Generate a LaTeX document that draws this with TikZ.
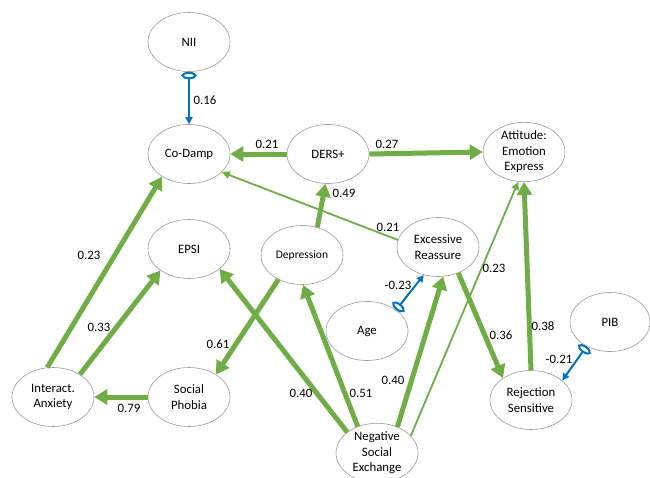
\documentclass[tikz,border=0pt]{standalone}
\usepackage{fontspec}
\setmainfont{Carlito}
\usetikzlibrary{arrows.meta,positioning,shapes.geometric}

\definecolor{pathgreen}{RGB}{112,173,71}
\definecolor{modblue}{RGB}{0,112,192}

\begin{document}
\begin{tikzpicture}[x=1pt,y=-1pt,node distance=112pt,on grid,
       font=\fontsize{12.8}{15.5}\selectfont]
       \tikzstyle{var}=[ellipse,draw=black!40,line width=0.6pt,fill=white,
              minimum width=82pt,minimum height=59pt,inner sep=0pt,align=center]
       \tikzstyle{strong}=[draw=pathgreen,line width=5pt,-{Triangle[length=13pt,width=15pt]}]
       \tikzstyle{weak}=[draw=pathgreen,line width=1.8pt,-{Triangle[length=8pt,width=7.5pt]}]
       \tikzstyle{mod}=[draw=modblue,line width=2pt,
              {Ellipse[open,length=7.5pt,width=15pt]}-{Triangle[length=7pt,width=7pt]}]
       \tikzstyle{coef}=[inner sep=0pt]

       \useasboundingbox (0,0) rectangle (650,477);

       \node[var] (nii) at (189,42) {NII};
       \node[var] (codamp) [below=of nii] {Co-Damp};
       \node[var] (ders) [right=139pt of codamp] {DERS+};
       \node[var] (attitude) at (524,152) {Attitude:\\Emotion\\Express};
       \node[var] (epsi) [below=95pt of codamp] {EPSI};
       \node[var] (phobia) [below=148pt of epsi] {Social\\Phobia};
       \node[var] (anxiety) [left=136pt of phobia] {Interact.\\Anxiety};
       \node[var,font=\fontsize{11.5}{14}\selectfont] (depression) at (302,255) {Depression};
       \node[var] (reassure) at (438,247) {Excessive\\Reassure};
       \node[var] (age) at (367,331) {Age};
       \node[var,minimum width=80pt] (pib) at (610,322) {PIB};
       \node[var] (reject) at (531,400) {Rejection\\Sensitive};
       \node[var] (nse) at (377,453) {Negative\\Social\\Exchange};

       % paths
       \draw[mod] (nii.south) -- (codamp.north);
       \draw[strong] (ders.west) -- (codamp.east);
       \draw[strong] (ders.east) -- (attitude.west);
       \draw[strong] (depression.61) -- (ders.265);
       \draw[weak] (reassure.170) -- (codamp.331);
       \draw[strong] (anxiety.101) -- (codamp.220);
       \draw[strong] (anxiety.40) -- (epsi.217);
       \draw[strong] (phobia.west) -- (anxiety.east);
       \draw[strong] (depression.226) -- (phobia.40);
       \draw[strong] (nse.145) -- (epsi.327);
       \draw[strong] (nse.126) -- (depression.272);
       \draw[strong] (nse.52) -- (reassure.280);
       \draw[weak] (nse.27) -- (attitude.259);
       \draw[strong] (reassure.308) -- (reject.142);
       \draw[strong] (reject.north) -- (attitude.south);
       \draw[mod] (age.36) -- (reassure.243);
       \draw[mod] (pib.226) -- (reject.32);

       % coefficients
       \node[coef] (c_nii) at (205,100) {0.16};
       \node[coef] (c_ders_codamp) at (267,144) {0.21};
       \node[coef] (c_ders_att) at (387,144) {0.27};
       \node[coef] (c_dep_ders) at (344,193) {0.49};
       \node[coef] (c_reas_codamp) at (388,227) {0.21};
       \node[coef] (c_anx_codamp) at (89,255) {0.23};
       \node[coef] (c_anx_epsi) at (99,327) {0.33};
       \node[coef] (c_dep_phob) at (218,344) {0.61};
       \node[coef] (c_phob_anx) at (129,408) {0.79};
       \node[coef] (c_nse_epsi) at (301,393) {0.40};
       \node[coef] (c_nse_dep) at (361,393) {0.51};
       \node[coef] (c_nse_reas) at (393,380) {0.40};
       \node[coef] (c_nse_att) at (494,268) {0.23};
       \node[coef] (c_age) at (398,285) {-0.23};
       \node[coef] (c_reas_rej) at (501,335) {0.36};
       \node[coef] (c_rej_att) at (543,326) {0.38};
       \node[coef] (c_pib) at (559,359) {-0.21};
\end{tikzpicture}
\end{document}
